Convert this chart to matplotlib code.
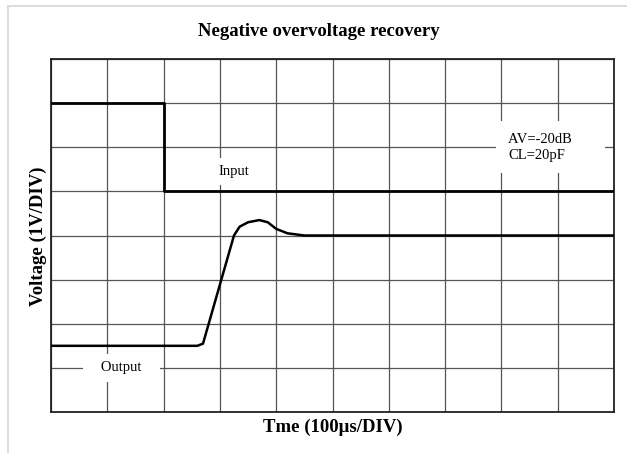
import matplotlib
matplotlib.use("Agg")
import matplotlib.pyplot as plt
from matplotlib.lines import Line2D

# %% data, in scope divisions (x: 100us/div, y: 1V/div)

input_t = [0, 2, 2, 10]
input_v = [7, 7, 5, 5]

output_t = [0, 2.6, 2.7, 3.25, 3.35, 3.5, 3.7, 3.85, 4.0, 4.2, 4.5, 10]
output_v = [1.5, 1.5, 1.55, 4.0, 4.2, 4.3, 4.35, 4.3, 4.15, 4.05, 4.0, 4.0]

n_xdiv = 10
n_ydiv = 8

# %%

plt.rcParams["font.family"] = ["Liberation Serif", "DejaVu Serif"]

fig = plt.figure(figsize=(6.27, 4.53), dpi=100)
ax = fig.add_axes([51 / 627, 1 - 412 / 453, 563 / 627, 353 / 453])

ax.set_xlim(0, n_xdiv)
ax.set_ylim(0, n_ydiv)
ax.set_xticks(range(n_xdiv + 1))
ax.set_yticks(range(n_ydiv + 1))
ax.grid(True, color="#555555", linewidth=0.9, zorder=1)
ax.set_axisbelow(True)
ax.tick_params(length=0, labelbottom=False, labelleft=False)
for s in ax.spines.values():
    s.set_color("#222222")
    s.set_linewidth(1.3)

ax.plot(input_t, input_v, color="black", linewidth=2.0, zorder=4)
ax.plot(output_t, output_v, color="black", linewidth=1.8, zorder=4)

box = dict(facecolor="white", edgecolor="none", boxstyle="square,pad=0.5")
ax.text(3.25, 5.45, "Input", fontsize=10.5, ha="center", va="center",
        bbox=box, zorder=3)
ax.text(1.25, 1.0, "   Output   ", fontsize=10.5, ha="center", va="center",
        bbox=box, zorder=3)
ax.text(8.12, 6.0, "AV=-20dB      \nCL=20pF", fontsize=10.5,
        ha="left", va="center", linespacing=1.3, zorder=3,
        bbox=dict(facecolor="white", edgecolor="none", boxstyle="square,pad=0.8"))

fig.text(319 / 627, 1 - 31 / 453, "Negative overvoltage recovery",
         fontsize=13.5, fontweight="bold", ha="center", va="center")
fig.text(333 / 627, 1 - 427 / 453, "Tme (100\u03bcs/DIV)",
         fontsize=13.5, fontweight="bold", ha="center", va="center")
fig.text(38 / 627, 1 - 236 / 453, "Voltage (1V/DIV)", rotation=90,
         fontsize=13.5, fontweight="bold", ha="center", va="center")

# light page frame
fig.add_artist(Line2D([8 / 627, 8 / 627], [0, 1 - 6 / 453],
                      transform=fig.transFigure, color="#dddddd", linewidth=1.5))
fig.add_artist(Line2D([8 / 627, 1], [1 - 6 / 453, 1 - 6 / 453],
                      transform=fig.transFigure, color="#dddddd", linewidth=1.5))

fig.savefig("out.png", dpi=100)
